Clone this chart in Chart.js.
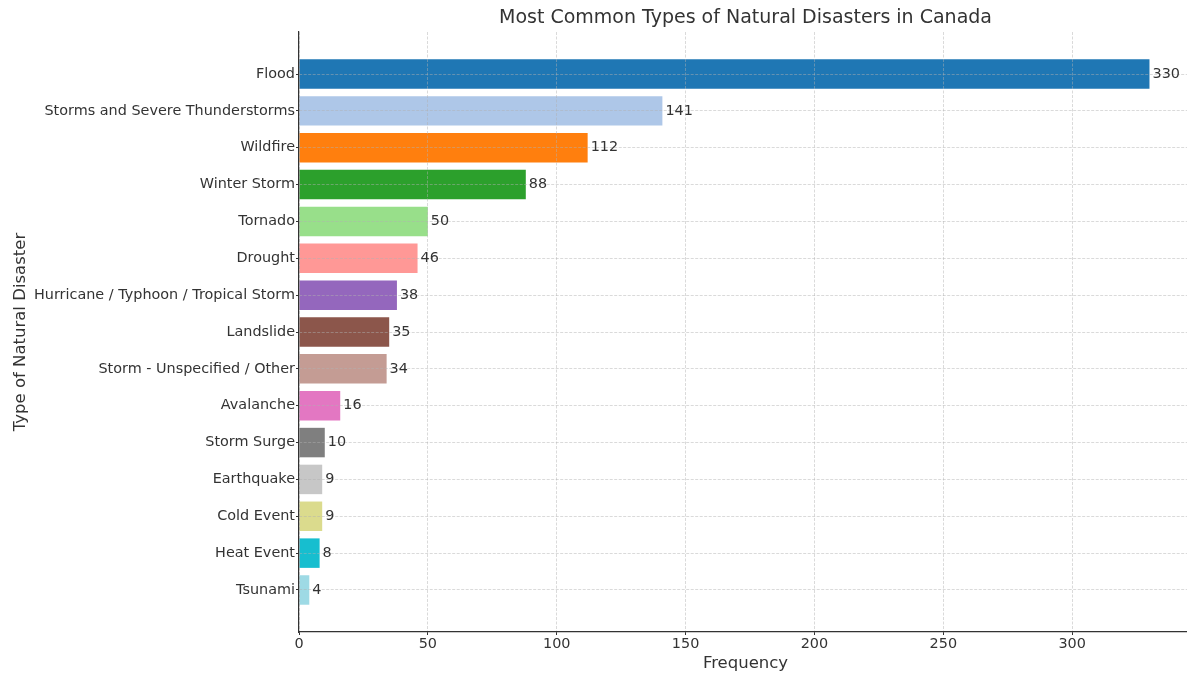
<!DOCTYPE html>
<html>
<head>
<meta charset="utf-8">
<script src="https://cdn.jsdelivr.net/npm/chart.js@4/dist/chart.umd.min.js"></script>
<style>
  html, body { margin: 0; padding: 0; background: #ffffff; overflow: hidden; }
  #wrap { width: 1187px; height: 675px; overflow: hidden; }
  canvas { display: block; }
</style>
</head>
<body>
<div id="wrap"><canvas id="chart" width="1192" height="675"></canvas></div>
<script>
// Disaster categories, top to bottom
const categories = [
  'Flood',
  'Storms and Severe Thunderstorms',
  'Wildfire',
  'Winter Storm',
  'Tornado',
  'Drought',
  'Hurricane / Typhoon / Tropical Storm',
  'Landslide',
  'Storm - Unspecified / Other',
  'Avalanche',
  'Storm Surge',
  'Earthquake',
  'Cold Event',
  'Heat Event',
  'Tsunami'
];

// Number of recorded events per category
const frequencies = [330, 141, 112, 88, 50, 46, 38, 35, 34, 16, 10, 9, 9, 8, 4];

// Bar fill colours, one per category
const barColors = [
  '#1f77b4', '#aec7e8', '#ff7f0e', '#2ca02c', '#98df8a',
  '#ff9896', '#9467bd', '#8c564b', '#c49c94', '#e377c2',
  '#7f7f7f', '#c7c7c7', '#dbdb8d', '#17becf', '#9edae5'
];

// Frequency axis tick values
const frequencyTicks = [0, 50, 100, 150, 200, 250, 300];

const TEXT = '#333333';
const FONT = 'DejaVu Sans';
const GRID = 'rgba(176,176,176,0.6)';
const TICK_SIZE = 14.4;

// Axis limits with a small margin around the bars
const barFrac = 0.8;
const yPad = barFrac / 2 + 0.05 * (categories.length - 1 + barFrac);
const xMax = Math.max(...frequencies) * 1.05;

// Value labels at the end of each bar
const valueLabels = {
  id: 'valueLabels',
  afterDraw(chart) {
    const ctx = chart.ctx;
    const meta = chart.getDatasetMeta(0);
    ctx.save();
    ctx.font = TICK_SIZE + 'px "' + FONT + '"';
    ctx.fillStyle = TEXT;
    ctx.textAlign = 'left';
    ctx.textBaseline = 'middle';
    meta.data.forEach((bar, i) => {
      ctx.fillText(String(frequencies[i]), bar.x + 3, bar.y);
    });
    ctx.restore();
  }
};

const gridStyle = {
  color: GRID,
  lineWidth: 0.8,
  offset: false,
  z: 1,
  tickLength: 3,
  tickColor: TEXT,
  tickWidth: 1,
  tickBorderDash: []
};

const borderStyle = { display: true, color: TEXT, width: 1.2, dash: [3, 1.5], z: 2 };

new Chart(document.getElementById('chart'), {
  type: 'bar',
  data: {
    datasets: [{
      data: categories.map((c, i) => ({ x: frequencies[i], y: i })),
      backgroundColor: barColors,
      borderWidth: 0,
      categoryPercentage: 1,
      barPercentage: barFrac
    }]
  },
  options: {
    indexAxis: 'y',
    responsive: false,
    animation: false,
    devicePixelRatio: 1,
    layout: { padding: 0 },
    plugins: {
      legend: { display: false },
      tooltip: { enabled: false },
      title: {
        display: true,
        fullSize: false,
        text: 'Most Common Types of Natural Disasters in Canada',
        color: TEXT,
        font: { family: FONT, size: 19, weight: 'normal' },
        padding: { top: 6.6, bottom: 2.6 }
      }
    },
    scales: {
      x: {
        type: 'linear',
        position: 'bottom',
        offset: false,
        min: 0,
        max: xMax,
        afterBuildTicks(scale) {
          scale.ticks = frequencyTicks.map(v => ({ value: v }));
        },
        afterFit(scale) { scale.height = 43; },
        ticks: {
          color: TEXT,
          font: { family: FONT, size: TICK_SIZE },
          padding: 1,
          maxRotation: 0
        },
        grid: gridStyle,
        border: borderStyle,
        title: {
          display: true,
          text: 'Frequency',
          color: TEXT,
          font: { family: FONT, size: 16.5 },
          padding: { top: 0, bottom: 1 }
        }
      },
      y: {
        type: 'linear',
        position: 'left',
        offset: false,
        reverse: true,
        min: -yPad,
        max: categories.length - 1 + yPad,
        afterBuildTicks(scale) {
          scale.ticks = categories.map((c, i) => ({ value: i }));
        },
        afterFit(scale) { scale.width = 299; },
        ticks: {
          color: TEXT,
          font: { family: FONT, size: TICK_SIZE },
          padding: 1,
          callback: (value) => categories[value]
        },
        grid: gridStyle,
        border: borderStyle,
        title: {
          display: true,
          text: 'Type of Natural Disaster',
          color: TEXT,
          font: { family: FONT, size: 16.5 },
          padding: { top: 11, bottom: 0 }
        }
      }
    }
  },
  plugins: [valueLabels]
});
</script>
</body>
</html>
